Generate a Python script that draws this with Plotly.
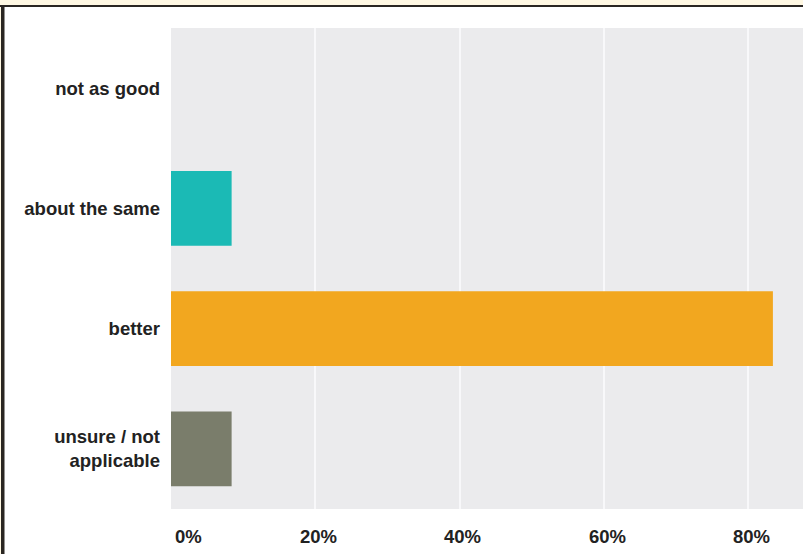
import plotly.graph_objects as go

categories = ["not as good", "about the same", "better", "unsure / not<br>applicable"]
values = [0, 8.4, 83.4, 8.4]
colors = ["#E7E7E9", "#1BBAB5", "#F2A71F", "#7A7D6B"]
tick_values = [0, 20, 40, 60, 80]
tick_labels = ["0%", "20%", "40%", "60%", "80%"]

W, H = 803, 554
ml, mt, mb, mr = 171, 28, 45, 0
pw, ph = W - ml - mr, H - mt - mb

def px_x(px):
    return (px - ml) / pw

def px_y(py):
    return (H - mb - py) / ph

fig = go.Figure(go.Bar(
    x=values, y=categories, orientation="h",
    marker=dict(color=colors, line=dict(width=0)),
    width=0.62, hoverinfo="skip",
))

font_family = "Liberation Sans, Arial, sans-serif"

annotations = []
for v, t in zip(tick_values, tick_labels):
    annotations.append(dict(
        x=v, y=px_y(536), xref="x", yref="paper",
        text=f"<b>{t}</b>", showarrow=False,
        xanchor="left" if v == 0 else "center", yanchor="middle",
        xshift=2 if v == 0 else 3,
        font=dict(family=font_family, size=18.5, color="#222222"),
    ))

shapes = [
    dict(type="rect", xref="paper", yref="paper", x0=px_x(0), x1=px_x(W), y0=px_y(0), y1=px_y(5),
         fillcolor="#FFF8E3", line=dict(width=0), layer="above"),
    dict(type="rect", xref="paper", yref="paper", x0=px_x(0), x1=px_x(1), y0=px_y(0), y1=px_y(H),
         fillcolor="#FFF8E3", line=dict(width=0), layer="above"),
    dict(type="rect", xref="paper", yref="paper", x0=px_x(0), x1=px_x(W), y0=px_y(5), y1=px_y(7),
         fillcolor="#2A2622", line=dict(width=0), layer="above"),
    dict(type="rect", xref="paper", yref="paper", x0=px_x(1), x1=px_x(4.5), y0=px_y(5), y1=px_y(H),
         fillcolor="#2A2622", line=dict(width=0), layer="above"),
]

fig.update_layout(
    width=W, height=H,
    margin=dict(l=ml, r=mr, t=mt, b=mb, pad=0),
    paper_bgcolor="white", plot_bgcolor="#EBEBED",
    showlegend=False,
    xaxis=dict(range=[0, (W - ml) / 7.217], tickvals=tick_values, showticklabels=False,
               showgrid=True, gridcolor="#F8F8FA", gridwidth=2, zeroline=False,
               showline=False, fixedrange=True),
    yaxis=dict(categoryorder="array", categoryarray=categories, autorange="reversed",
               showgrid=False, zeroline=False, showline=False,
               ticklabelstandoff=10,
               tickfont=dict(family=font_family, size=18.5, color="#222222"),
               tickprefix="<b>", ticksuffix="</b>", fixedrange=True),
    annotations=annotations,
    shapes=shapes,
)

fig.write_html("out.html")
